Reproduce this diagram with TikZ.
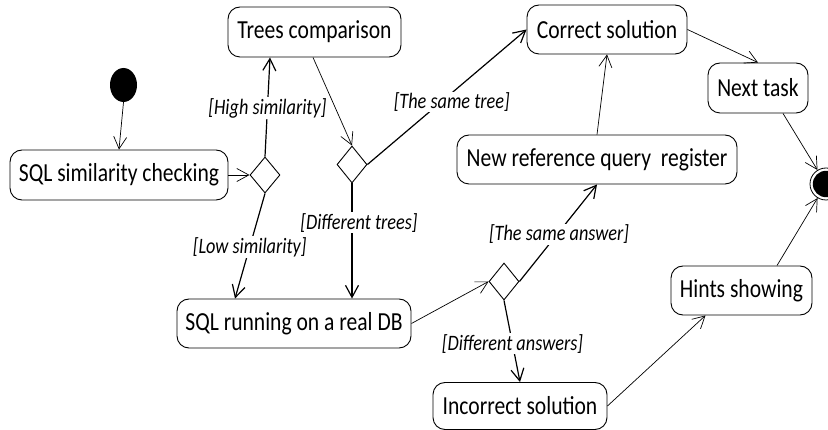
\documentclass[tikz,border=0pt]{standalone}
\usepackage{fontspec}
\setmainfont{Carlito}[FakeStretch=0.83]
\usetikzlibrary{arrows.meta,shapes.geometric}
\begin{document}
\begin{tikzpicture}[x=1pt,y=-1pt,
  act/.style={draw,line width=0.9pt,rounded corners=12pt,inner sep=0pt,
    font=\fontsize{26}{28}\selectfont},
  dec/.style={draw,diamond,line width=0.9pt,inner sep=0pt,minimum width=30pt,minimum height=36pt},
  flow/.style={line width=0.7pt,-{Straight Barb[length=12pt,width=13pt]}},
  guard/.style={line width=1.2pt,-{Straight Barb[length=12pt,width=13pt]}},
  lbl/.style={fill=white,inner sep=1pt,font=\fontsize{22}{24}\selectfont\itshape}]
\useasboundingbox (0,0) rectangle (828,430);
% nodes
\node[ellipse,fill=black,minimum width=27pt,minimum height=34pt,inner sep=0pt] (init) at (123.5,85) {};
\node[act,minimum width=218pt,minimum height=50pt] (sim) at (119,175) {SQL similarity checking};
\node[dec] (d1) at (265,175) {};
\node[act,minimum width=173pt,minimum height=50pt] (trees) at (314.5,32) {Trees comparison};
\node[dec,minimum height=37pt] (d2) at (352,164.5) {};
\node[act,minimum width=160pt,minimum height=49pt] (correct) at (607,29.5) {Correct solution};
\node[act,minimum width=100pt,minimum height=50pt] (next) at (758,88) {Next task};
\node[act,minimum width=280pt,minimum height=49pt] (newref) at (597,159.5) {New reference query\ \ register};
\node[dec,minimum height=37pt] (d3) at (504,281.5) {};
\node[act,minimum width=234pt,minimum height=49pt] (run) at (294,323.5) {SQL running on a real DB};
\node[act,minimum width=174pt,minimum height=47pt] (incorrect) at (520,406) {Incorrect solution};
\node[act,minimum width=141pt,minimum height=49pt] (hints) at (741.5,290.5) {Hints showing};
\node[circle,draw,line width=0.8pt,minimum size=32pt,inner sep=0pt] (final) at (826,184) {};
\fill (final.center) circle (13.2pt);
% connectors
\draw[flow] (init.south) -- (sim.north);
\draw[flow] (sim.east) -- (d1.west);
\draw[guard] (d1.north) -- node[lbl,pos=0.49]{[High similarity]} ([xshift=-44.5pt]trees.south);
\draw[flow] ([xshift=-1.5pt]trees.south) -- (d2.north);
\draw[guard] (d2.east) -- node[lbl,pos=0.53,yshift=-9pt]{[The same tree]} (correct.west);
\draw[guard] (d2.south) -- node[lbl,pos=0.34,xshift=7pt]{[Different trees]} ([xshift=58pt]run.north);
\draw[guard] (d1.south) -- node[lbl,pos=0.51]{[Low similarity]} ([xshift=-59pt]run.north);
\draw[flow] (run.east) -- (d3.west);
\draw[guard] (d3.east) -- node[lbl,pos=0.485,xshift=2pt]{[The same answer]} (newref.south);
\draw[guard] (d3.south) -- node[lbl,pos=0.53]{[Different answers]} (incorrect.north);
\draw[flow] (newref.north) -- (correct.south);
\draw[flow] (correct.east) -- (next.north);
\draw[flow] ([xshift=25pt]next.south) -- (final);
\draw[flow] ([xshift=35.5pt]hints.north) -- (final);
\draw[flow] (incorrect.east) -- ([xshift=-36pt]hints.south);
\end{tikzpicture}
\end{document}
